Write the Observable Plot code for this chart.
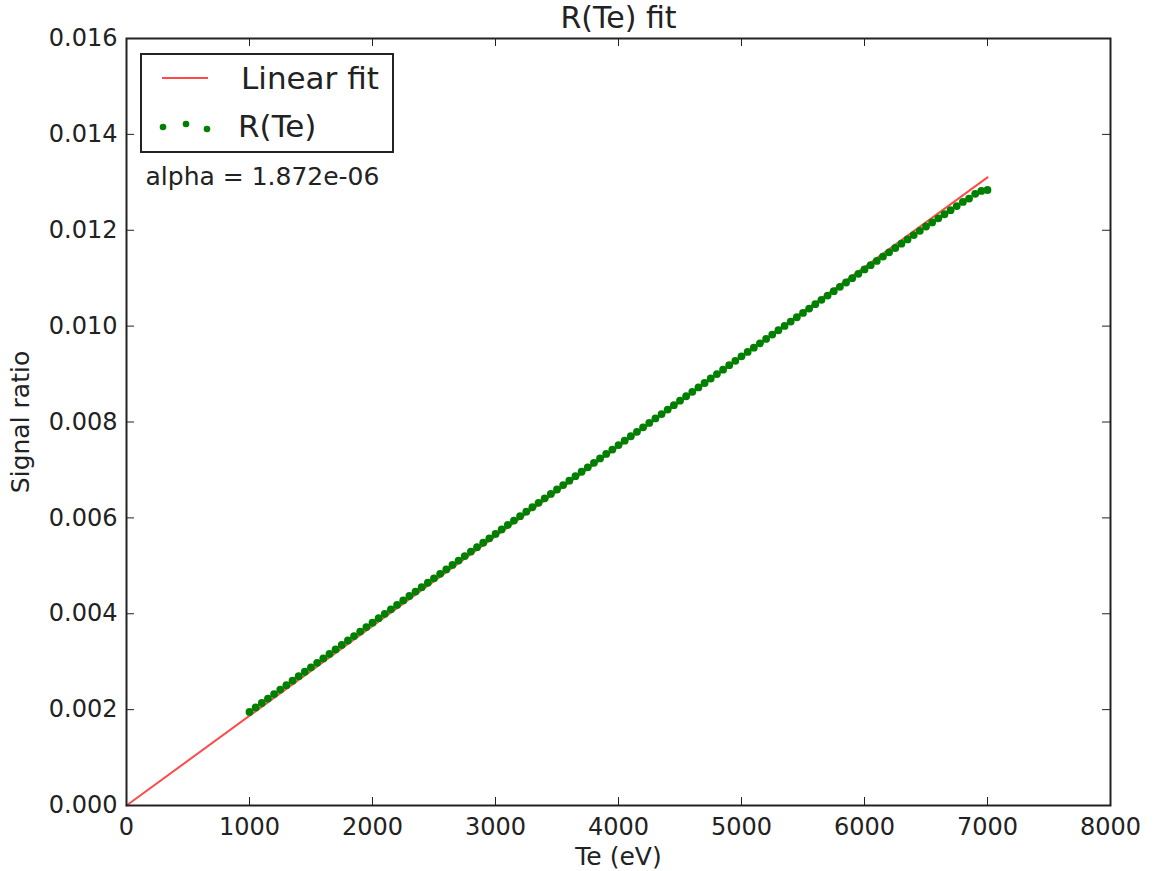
<!DOCTYPE html>
<html>
<head>
<meta charset="utf-8">
<script src="https://cdn.jsdelivr.net/npm/d3@7"></script>
<script src="https://cdn.jsdelivr.net/npm/@observablehq/plot@0.6"></script>
<style>
  html, body { margin: 0; padding: 0; background: #fff; }
  #wrap { position: relative; width: 1156px; height: 871px; font-family: "DejaVu Sans", sans-serif; }
  #legend { position: absolute; left: 140px; top: 53px; width: 250px; height: 96px; border: 2px solid #222; background: #fff; }
  #legend svg { position: absolute; left: 0; top: 0; }
</style>
</head>
<body>
<div id="wrap"></div>
<script>
// ---- data ----
const xTicks = [0, 1000, 2000, 3000, 4000, 5000, 6000, 7000, 8000];
const yTicks = [0, 0.002, 0.004, 0.006, 0.008, 0.010, 0.012, 0.014, 0.016];

const alpha = 1.872e-06;
const fitTe = [0, 7000];
const fitR = [0, 0.013104];

const te = [
  1000,1050,1100,1150,1200,1250,1300,1350,1400,1450,
  1500,1550,1600,1650,1700,1750,1800,1850,1900,1950,
  2000,2050,2100,2150,2200,2250,2300,2350,2400,2450,
  2500,2550,2600,2650,2700,2750,2800,2850,2900,2950,
  3000,3050,3100,3150,3200,3250,3300,3350,3400,3450,
  3500,3550,3600,3650,3700,3750,3800,3850,3900,3950,
  4000,4050,4100,4150,4200,4250,4300,4350,4400,4450,
  4500,4550,4600,4650,4700,4750,4800,4850,4900,4950,
  5000,5050,5100,5150,5200,5250,5300,5350,5400,5450,
  5500,5550,5600,5650,5700,5750,5800,5850,5900,5950,
  6000,6050,6100,6150,6200,6250,6300,6350,6400,6450,
  6500,6550,6600,6650,6700,6750,6800,6850,6900,6950,
  7000
];
const ratio = [
  0.001952,0.002045,0.002138,0.002231,0.002324,0.002418,0.002511,0.002604,0.002697,0.002790,
  0.002883,0.002976,0.003069,0.003162,0.003255,0.003349,0.003442,0.003535,0.003628,0.003721,
  0.003814,0.003907,0.003999,0.004092,0.004184,0.004277,0.004370,0.004462,0.004555,0.004647,
  0.004740,0.004833,0.004925,0.005018,0.005110,0.005203,0.005296,0.005388,0.005481,0.005573,
  0.005666,0.005759,0.005851,0.005944,0.006036,0.006129,0.006222,0.006314,0.006407,0.006499,
  0.006592,0.006685,0.006777,0.006870,0.006962,0.007055,0.007148,0.007240,0.007333,0.007425,
  0.007518,0.007611,0.007703,0.007796,0.007888,0.007981,0.008074,0.008166,0.008259,0.008351,
  0.008444,0.008537,0.008629,0.008722,0.008814,0.008907,0.009000,0.009092,0.009185,0.009277,
  0.009370,0.009461,0.009551,0.009642,0.009732,0.009823,0.009914,0.010004,0.010095,0.010185,
  0.010276,0.010367,0.010457,0.010548,0.010638,0.010729,0.010820,0.010910,0.011001,0.011091,
  0.011182,0.011272,0.011361,0.011451,0.011540,0.011630,0.011720,0.011809,0.011899,0.011988,
  0.012078,0.012163,0.012249,0.012334,0.012419,0.012504,0.012590,0.012660,0.012760,0.012820,
  0.012840
];

const points = te.map((t, i) => ({te: t, r: ratio[i]}));
const fit = fitTe.map((t, i) => ({te: t, r: fitR[i]}));

const W = 1156, H = 871;
const mTop = 38, mBottom = 66, mLeft = 126, mRight = 46;
const plotH = H - mTop - mBottom;
const plotW = W - mLeft - mRight;
const tickLen = 8;
const RED = "#ff4a4a";
const GREEN = "#008000";
const INK = "#222";

const chart = Plot.plot({
  width: W,
  height: H,
  marginTop: mTop,
  marginBottom: mBottom,
  marginLeft: mLeft,
  marginRight: mRight,
  style: { fontFamily: "DejaVu Sans, sans-serif", fontSize: "24px", color: INK, background: "#fff" },
  x: { domain: [0, 8000] },
  y: { domain: [0, 0.016] },
  marks: [
    Plot.line(fit, { x: "te", y: "r", stroke: RED, strokeWidth: 2 }),
    Plot.dot(points, { x: "te", y: "r", r: 3.9, fill: GREEN, stroke: "none" }),
    // inward ticks on all four sides
    Plot.tickX(xTicks, { x: d => d, stroke: INK, strokeWidth: 1, insetTop: plotH - tickLen }),
    Plot.tickX(xTicks, { x: d => d, stroke: INK, strokeWidth: 1, insetBottom: plotH - tickLen }),
    Plot.tickY(yTicks, { y: d => d, stroke: INK, strokeWidth: 1, insetRight: plotW - tickLen }),
    Plot.tickY(yTicks, { y: d => d, stroke: INK, strokeWidth: 1, insetLeft: plotW - tickLen }),
    Plot.axisX({ ticks: xTicks, tickSize: 0, tickPadding: 12, tickFormat: d3.format("d"), label: null, fontSize: 24 }),
    Plot.axisY({ ticks: yTicks, tickSize: 0, tickPadding: 9, tickFormat: d3.format(".3f"), label: null, fontSize: 24 }),
    Plot.frame({ stroke: INK, strokeWidth: 2 }),
    Plot.text(["R(Te) fit"], { frameAnchor: "top", lineAnchor: "middle", dy: -20, fontSize: 30, fill: INK }),
    Plot.text(["Te (eV)"], { frameAnchor: "bottom", lineAnchor: "middle", dy: 51, fontSize: 25, fill: INK }),
    Plot.text(["Signal ratio"], { frameAnchor: "left", textAnchor: "middle", lineAnchor: "middle", dx: -106, rotate: -90, fontSize: 25, fill: INK }),
    Plot.text([`alpha = ${alpha.toExponential(3).replace("e-6", "e-06")}`], { frameAnchor: "top-left", lineAnchor: "middle", textAnchor: "start", dx: 19, dy: 138, fontSize: 25, fill: INK })
  ]
});

const wrap = document.getElementById("wrap");
wrap.appendChild(chart);

const legend = document.createElement("div");
legend.id = "legend";
legend.innerHTML = `
<svg width="250" height="96" xmlns="http://www.w3.org/2000/svg" font-family="DejaVu Sans, sans-serif">
  <line x1="20" y1="23" x2="66" y2="23" stroke="${RED}" stroke-width="2"/>
  <text x="99" y="23" dy="0.36em" font-size="31" fill="${INK}">Linear fit</text>
  <circle cx="21" cy="72" r="3.3" fill="${GREEN}"/>
  <circle cx="44" cy="69" r="3.3" fill="${GREEN}"/>
  <circle cx="65" cy="74" r="3.3" fill="${GREEN}"/>
  <text x="96" y="71" dy="0.36em" font-size="31" fill="${INK}">R(Te)</text>
</svg>`;
wrap.appendChild(legend);
</script>
</body>
</html>
